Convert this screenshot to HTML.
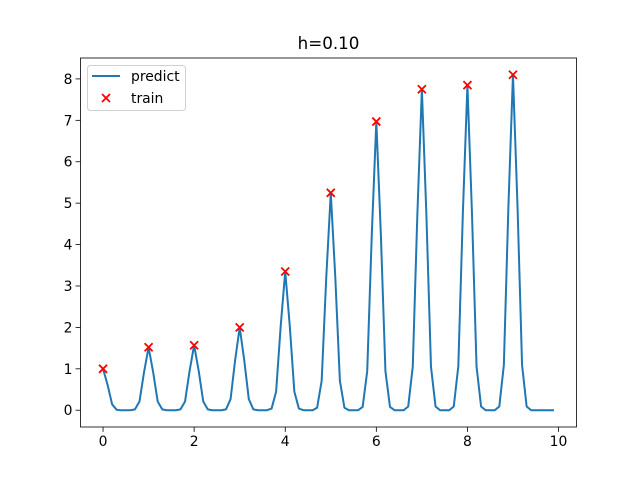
<!DOCTYPE html>
<html><head><meta charset="utf-8"><style>
html,body{margin:0;padding:0;background:#fff;}
svg{display:block;font-family:"DejaVu Sans","Liberation Sans",sans-serif;}
</style></head><body>
<svg id="chart" width="640" height="480" viewBox="0 0 640 480"></svg>
<script>
const trainX = [0,1,2,3,4,5,6,7,8,9];
const trainY = [1.0,1.52,1.57,2.0,3.35,5.25,6.97,7.75,7.85,8.1];
const predictY = [
1,0.61,0.14,0.01,0,0,0,0.02,0.21,0.92,
1.52,0.92,0.21,0.02,0,0,0,0.02,0.21,0.95,
1.57,0.95,0.21,0.02,0,0,0,0.02,0.27,1.21,
2.0,1.21,0.27,0.02,0,0,0,0.04,0.45,2.03,
3.35,2.03,0.45,0.04,0,0,0,0.06,0.71,3.19,
5.25,3.19,0.71,0.06,0,0,0,0.08,0.94,4.23,
6.97,4.23,0.94,0.08,0,0,0,0.09,1.05,4.70,
7.75,4.70,1.05,0.09,0,0,0,0.09,1.06,4.76,
7.85,4.76,1.06,0.09,0,0,0,0.09,1.09,4.92,
8.1,4.92,1.09,0.09,0,0,0,0,0,0];
const xTicks = [0,2,4,6,8,10];
const yTicks = [0,1,2,3,4,5,6,7,8];
const titleText = "h=0.10";

const NS="http://www.w3.org/2000/svg";
const svg=document.getElementById('chart');
const L=80.5,R=576.5,T=58,B=427;
const xmin=-0.495,xmax=10.395,ymin=-0.405,ymax=8.505;
const sx=v=>L+(v-xmin)/(xmax-xmin)*(R-L);
const sy=v=>B-(v-ymin)/(ymax-ymin)*(B-T);
function mk(tag,attrs,parent){const e=document.createElementNS(NS,tag);for(const k in attrs)e.setAttribute(k,attrs[k]);(parent||svg).appendChild(e);return e;}

const t=mk('text',{x:(L+R)/2,y:49,'text-anchor':'middle','font-size':'16.7'});


t.textContent=titleText;

const xa=mk('g',{});


xTicks.forEach(v=>{
  mk('line',{x1:sx(v),x2:sx(v),y1:B,y2:B+4.9,stroke:'#000','stroke-width':0.8},xa);
  const tx=mk('text',{x:sx(v),y:B+19,'text-anchor':'middle','font-size':'13.9'},xa);
  
  
  tx.textContent=v;
});
const ya=mk('g',{});


yTicks.forEach(v=>{
  mk('line',{x1:L-4.9,x2:L,y1:sy(v),y2:sy(v),stroke:'#000','stroke-width':0.8},ya);
  const tx=mk('text',{x:L-8,y:sy(v)+5,'text-anchor':'end','font-size':'13.9'},ya);
  
  
  tx.textContent=v;
});

const pts=predictY.map((v,i)=>sx(i/10).toFixed(2)+','+sy(v).toFixed(2)).join(' ');
const pl=mk('polyline',{points:pts,fill:'none',stroke:'#1f77b4','stroke-width':2,'stroke-linejoin':'round'});



const tg=mk('g',{});


trainX.forEach((x,i)=>{
  const cx=sx(x),cy=sy(trainY[i]),d=4;
  const p=mk('path',{d:`M${cx-d},${cy-d}L${cx+d},${cy+d}M${cx-d},${cy+d}L${cx+d},${cy-d}`,stroke:'#ff0000','stroke-width':1.8},tg);
  
  
});

const fr=mk('rect',{x:L,y:T,width:R-L,height:B-T,fill:'none',stroke:'#000','stroke-width':0.8});



const lg=mk('g',{});


mk('rect',{x:87.5,y:65.5,width:98,height:45,rx:3,fill:'#fff',stroke:'#ccc','stroke-width':1,opacity:0.9},lg);
mk('line',{x1:92,x2:120,y1:76,y2:76,stroke:'#1f77b4','stroke-width':2},lg);
const l1=mk('text',{x:131,y:81,'font-size':'13.9'},lg);


l1.textContent='predict';
mk('path',{d:'M102,94L110,102M102,102L110,94',stroke:'#ff0000','stroke-width':1.8},lg);
const l2=mk('text',{x:131,y:103,'font-size':'13.9'},lg);


l2.textContent='train';
</script>
</body></html>
